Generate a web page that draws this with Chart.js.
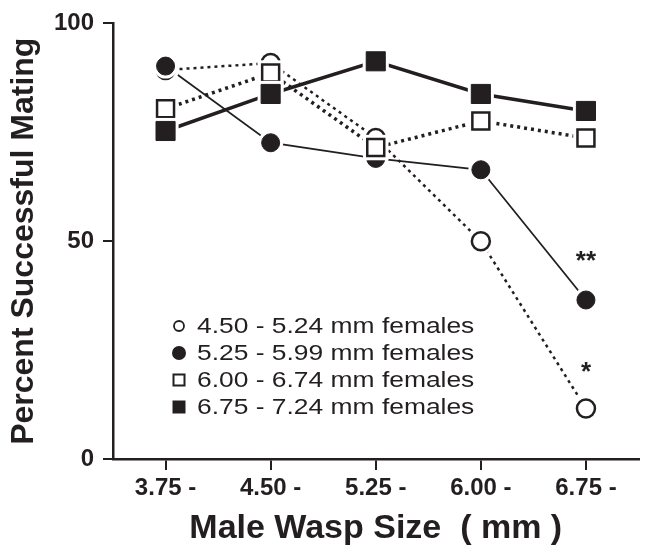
<!DOCTYPE html>
<html><head><meta charset="utf-8">
<script src="https://cdn.jsdelivr.net/npm/chart.js@4.4.0/dist/chart.umd.min.js"></script>
<style>html,body{margin:0;padding:0;background:#fff;}#wrap{width:653px;height:552px;}</style>
</head><body><div id="wrap"><canvas id="c" width="653" height="552"></canvas></div>
<script>
const categories = ['3.75 -', '4.50 -', '5.25 -', '6.00 -', '6.75 -'];
const seriesLabels = ['4.50 - 5.24 mm females', '5.25 - 5.99 mm females', '6.00 - 6.74 mm females', '6.75 - 7.24 mm females'];
const openCircle   = [89.3, 90.9, 73.7, 50.0, 11.6];
const filledCircle = [90.2, 72.6, 69.0, 66.4, 36.5];
const openSquare   = [80.4, 88.6, 71.5, 77.6, 73.7];
const filledSquare = [75.3, 83.8, 91.3, 83.8, 79.9];
const yTicks = [0, 50, 100];
const significance = [{series: 1, index: 4, text: '**', lift: 31}, {series: 0, index: 4, text: '*', lift: 28}];

const INK = '#231f20';
const FONT = "'Liberation Sans', Arial, Helvetica, sans-serif";

const datasets = [
  {label: seriesLabels[0], data: openCircle, borderColor: INK, borderWidth: 2.5, borderDash: [3, 4],
   pointStyle: 'circle', pointRadius: 9, pointBackgroundColor: '#fff', pointBorderColor: INK, pointBorderWidth: 2.5},
  {label: seriesLabels[1], data: filledCircle, borderColor: INK, borderWidth: 1.8,
   pointStyle: 'circle', pointRadius: 9, pointBackgroundColor: INK, pointBorderColor: INK, pointBorderWidth: 1},
  {label: seriesLabels[2], data: openSquare, borderColor: INK, borderWidth: 3.5, borderDash: [3, 4],
   pointStyle: 'rect', pointRadius: 12, pointBackgroundColor: '#fff', pointBorderColor: INK, pointBorderWidth: 2.5},
  {label: seriesLabels[3], data: filledSquare, borderColor: INK, borderWidth: 3.5,
   pointStyle: 'rect', pointRadius: 13.5, pointBackgroundColor: INK, pointBorderColor: INK, pointBorderWidth: 1}
];
datasets.forEach(d => { d.fill = false; d.tension = 0; d.borderCapStyle = 'butt'; });

const markerPlugin = {
  id: 'markers',
  afterDatasetsDraw(chart) {
    const ctx = chart.ctx;
    chart.data.datasets.forEach((ds, i) => {
      const meta = chart.getDatasetMeta(i);
      meta.data.forEach(el => {
        const r = el.options.radius, bw = el.options.borderWidth;
        ctx.save();
        ctx.fillStyle = '#fff';
        ctx.beginPath();
        if (el.options.pointStyle === 'rect') {
          const h = Math.SQRT1_2 * r + bw / 2 + 3;
          ctx.rect(el.x - h, el.y - h, 2 * h, 2 * h);
        } else {
          ctx.arc(el.x, el.y, r + bw / 2 + 3, 0, Math.PI * 2);
        }
        ctx.fill();
        ctx.restore();
        el.draw(ctx, chart.chartArea);
      });
    });
  },
  afterDraw(chart) {
    const ctx = chart.ctx;
    const xs = chart.scales.x, ys = chart.scales.y;
    ctx.save();
    ctx.fillStyle = INK;
    ctx.font = 'bold 26px ' + FONT;
    ctx.textAlign = 'center';
    ctx.textBaseline = 'alphabetic';
    significance.forEach(s => {
      const v = chart.data.datasets[s.series].data[s.index];
      ctx.fillText(s.text, xs.getPixelForValue(s.index), ys.getPixelForValue(v) - s.lift);
    });
    ctx.restore();
    const lx = 179, tx = 197, y0 = 326, dy = 27;
    const legendMarkers = [
      {style: 'circle', r: 5, fill: '#fff', bw: 1.8},
      {style: 'circle', r: 7, fill: INK, bw: 0},
      {style: 'rect', r: 5.5, fill: '#fff', bw: 2},
      {style: 'rect', r: 6.5, fill: INK, bw: 0}
    ];
    chart.data.datasets.forEach((ds, i) => {
      const y = y0 + i * dy;
      const m = legendMarkers[i];
      ctx.save();
      ctx.beginPath();
      if (m.style === 'rect') ctx.rect(lx - m.r, y - m.r, 2 * m.r, 2 * m.r);
      else ctx.arc(lx, y, m.r, 0, Math.PI * 2);
      ctx.fillStyle = m.fill; ctx.fill();
      if (m.bw) { ctx.lineWidth = m.bw; ctx.strokeStyle = INK; ctx.stroke(); }
      ctx.restore();
      ctx.save();
      ctx.fillStyle = INK;
      ctx.font = '22px ' + FONT;
      ctx.textBaseline = 'middle';
      ctx.translate(tx, y);
      ctx.scale(1.2, 1);
      ctx.fillText(ds.label, 0, 1);
      ctx.restore();
    });
  }
};

new Chart(document.getElementById('c'), {
  type: 'line',
  data: {labels: categories, datasets: datasets},
  options: {
    responsive: false,
    animation: false,
    layout: {padding: {top: 21, right: 12, left: 0, bottom: 0}},
    plugins: {legend: {display: false}, tooltip: {enabled: false}},
    scales: {
      x: {
        type: 'category', offset: true,
        grid: {display: true, offset: false, drawOnChartArea: false, drawTicks: true, tickLength: 11, color: INK, lineWidth: 2},
        border: {display: true, color: INK, width: 2.5},
        ticks: {color: INK, font: {family: FONT, size: 24, weight: 'bold'}, padding: 4, maxRotation: 0, autoSkip: false},
        title: {display: true, text: 'Male Wasp Size  ( mm )', color: INK, font: {family: FONT, size: 34, weight: 'bold'}, padding: {top: 0, bottom: 3}},
        afterFit: s => { s.height = 93; }
      },
      y: {
        min: 0, max: 100,
        afterBuildTicks: s => { s.ticks = yTicks.map(v => ({value: v})); },
        grid: {display: true, drawOnChartArea: false, drawTicks: true, tickLength: 10, color: INK, lineWidth: 2},
        border: {display: true, color: INK, width: 2.5},
        ticks: {color: INK, font: {family: FONT, size: 24, weight: 'bold'}, padding: 9},
        title: {display: true, text: 'Percent Successful Mating', color: INK, font: {family: FONT, size: 32, weight: 'bold'}, padding: {top: 5, bottom: 0}},
        afterFit: s => { s.width = 113; }
      }
    }
  },
  plugins: [markerPlugin]
});
</script>
</body></html>
